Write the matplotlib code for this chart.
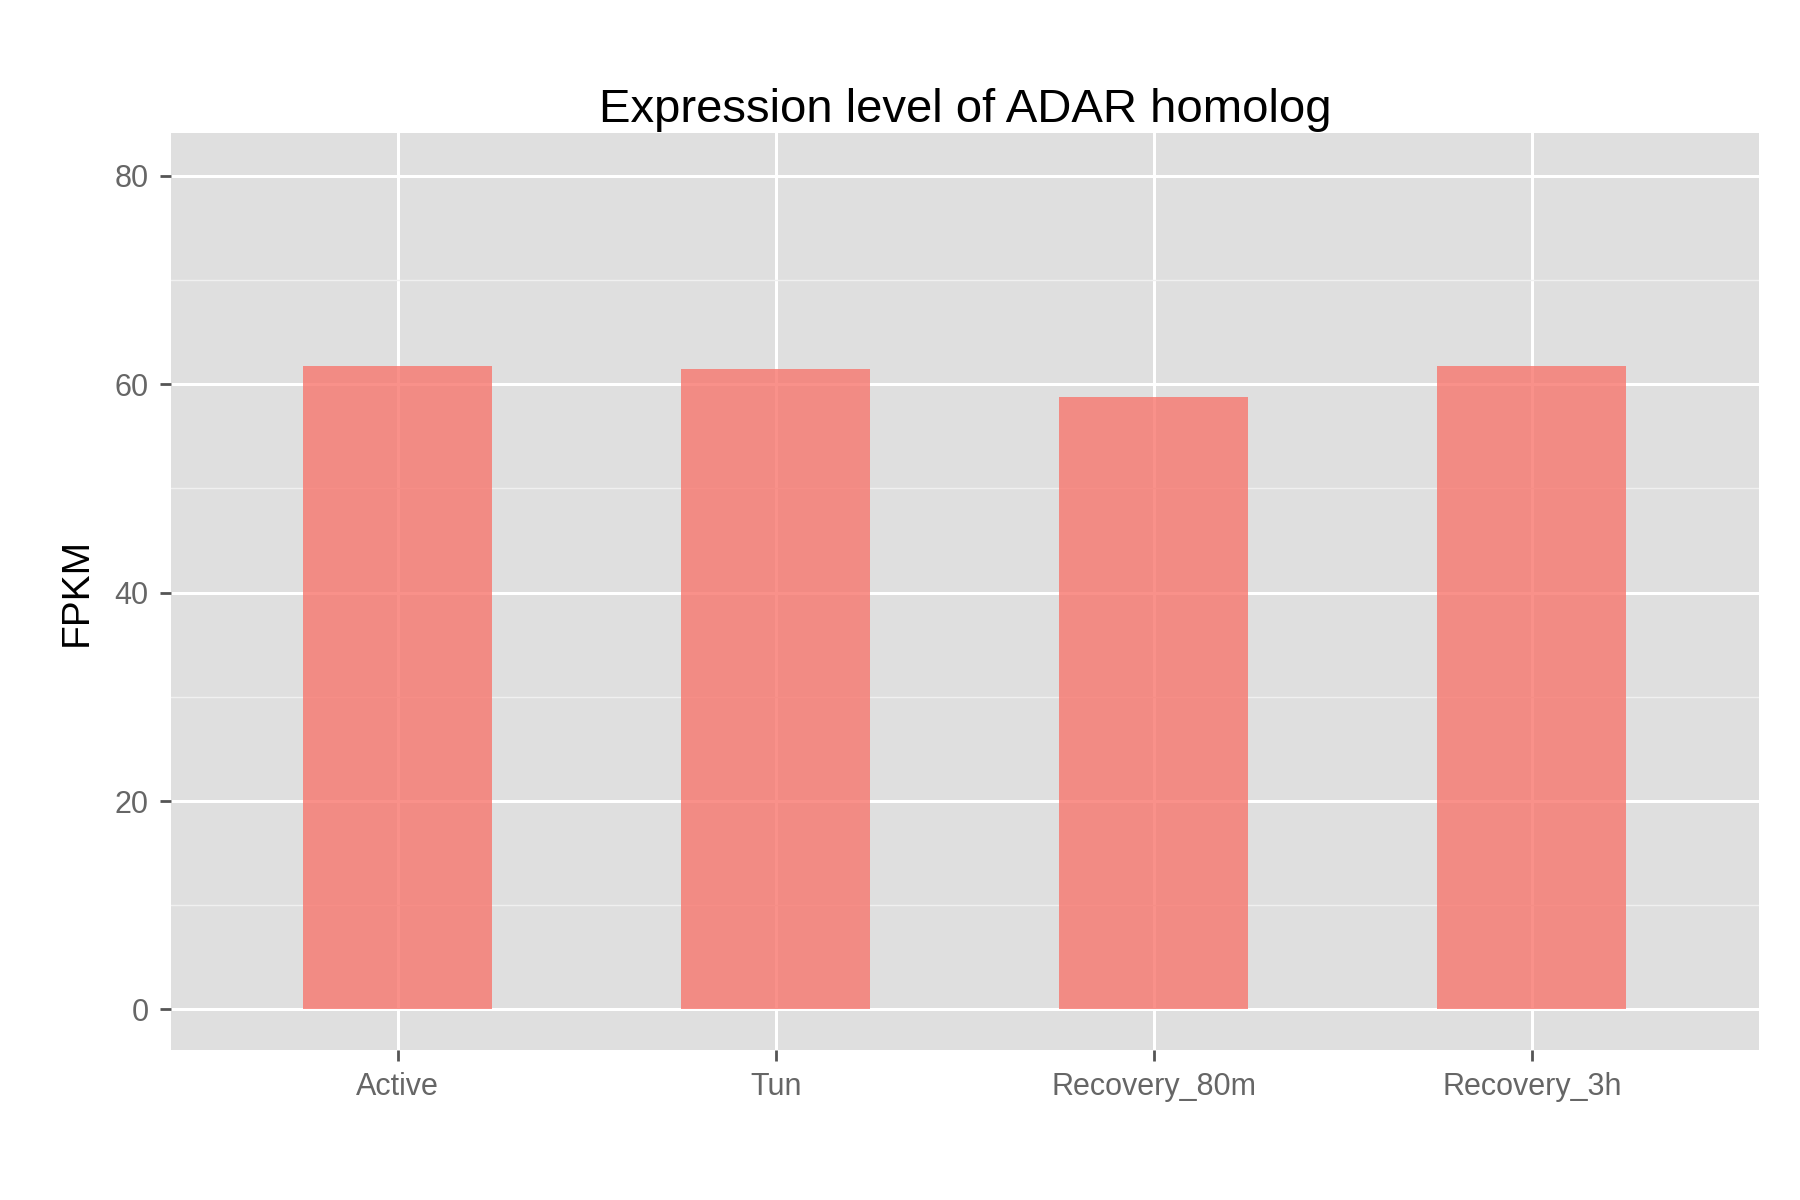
import matplotlib
matplotlib.use("Agg")
import matplotlib.pyplot as plt

# -----------------------------
# DATA
# -----------------------------
conditions = ["Active", "Tun", "Recovery_80m", "Recovery_3h"]
fpkm = [61.8, 61.5, 58.8, 61.8]

plt.rcParams['font.family'] = ['Liberation Sans', 'DejaVu Sans']

fig = plt.figure(figsize=(18, 12), dpi=100)
ax = fig.add_axes([0.095, 0.125, 0.882, 0.764])
ax.set_facecolor("#dfdfdf")

x = list(range(len(conditions)))
ax.bar(x, fpkm, width=0.5, color="#F8766D", alpha=0.8, zorder=3)

ax.set_xlim(-0.6, 3.6)
ax.set_ylim(-3.9, 84.1)
ax.set_yticks([0, 20, 40, 60, 80])
ax.set_yticks([10, 30, 50, 70], minor=True)
ax.set_xticks(x)
ax.set_xticklabels(conditions)

ax.grid(which="major", color="white", linewidth=2.2, zorder=1)
ax.grid(which="minor", axis="y", color="#f0f0f0", linewidth=1, zorder=1)
ax.tick_params(which="major", length=8, width=2, color="#555555",
               labelsize=22, labelcolor="#666666", pad=8)
ax.tick_params(which="minor", length=0)
for s in ax.spines.values():
    s.set_visible(False)

ax.set_ylabel("FPKM", fontsize=28, labelpad=14)
ax.set_title("Expression level of ADAR homolog", fontsize=34, pad=8)

fig.savefig("out.png")
